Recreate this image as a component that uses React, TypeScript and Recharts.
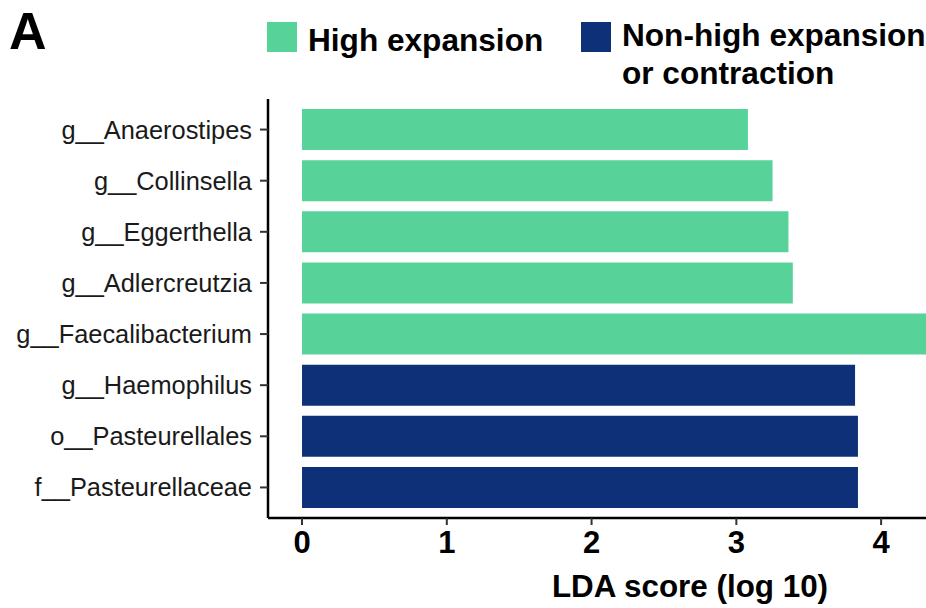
import React from 'react';
import { BarChart, Bar, XAxis, YAxis, Cell, Legend } from 'recharts';

const taxa = [
  'g__Anaerostipes',
  'g__Collinsella',
  'g__Eggerthella',
  'g__Adlercreutzia',
  'g__Faecalibacterium',
  'g__Haemophilus',
  'o__Pasteurellales',
  'f__Pasteurellaceae',
];
const ldaScores = [3.08, 3.25, 3.36, 3.39, 4.7, 3.82, 3.84, 3.84];
const groups = ['high', 'high', 'high', 'high', 'high', 'non', 'non', 'non'];
const xTicks = [0, 1, 2, 3, 4];

const groupColors: Record<string, string> = {
  high: '#57D399',
  non: '#0E3079',
};
const legendItems = [
  { key: 'high', label: 'High expansion' },
  { key: 'non', label: 'Non-high expansion\nor contraction' },
];

const data = taxa.map((name, i) => ({ name, lda: ldaScores[i], group: groups[i] }));

const FONT = '"Liberation Sans", Arial, Helvetica, sans-serif';

const renderLegend = () => (
  <div style={{ position: 'relative', height: 0, fontFamily: FONT }}>
    {legendItems.map((item, i) => {
      const left = i === 0 ? 267 : 581;
      return (
        <React.Fragment key={item.key}>
          <div
            style={{
              position: 'absolute',
              left,
              top: 22,
              width: 30,
              height: 30,
              background: groupColors[item.key],
            }}
          />
          <div
            style={{
              position: 'absolute',
              left: left + 41,
              top: i === 0 ? 21 : 16,
              fontSize: 31.6,
              fontWeight: 'bold',
              lineHeight: '38px',
              color: '#000',
              whiteSpace: 'pre',
            }}
          >
            {item.label}
          </div>
        </React.Fragment>
      );
    })}
  </div>
);

const AxisTitle = (props: any) => {
  const { viewBox } = props;
  return (
    <text
      x={viewBox.x + viewBox.width / 2 + 93}
      y={viewBox.y + 79}
      textAnchor="middle"
      fontFamily={FONT}
      fontSize={31.4}
      fontWeight="bold"
      fill="#000"
    >
      LDA score (log 10)
    </text>
  );
};

export default function App() {
  return (
    <div style={{ position: 'absolute', left: 0, top: 0, width: 926, height: 608, background: '#fff' }}>
      <div
        style={{
          position: 'absolute',
          left: 9,
          top: 5,
          fontFamily: FONT,
          fontSize: 52,
          fontWeight: 'bold',
          lineHeight: '52px',
          color: '#000',
        }}
      >
        A
      </div>
      <BarChart
        width={926}
        height={608}
        data={data}
        layout="vertical"
        margin={{ top: 99, right: 0, bottom: 0, left: 0 }}
        barCategoryGap="10%"
      >
        <Legend
          verticalAlign="top"
          align="left"
          content={renderLegend}
          wrapperStyle={{ top: 0, left: 0, width: 926, height: 0 }}
        />
        <XAxis
          type="number"
          domain={[-0.235, 4.31]}
          allowDataOverflow
          ticks={xTicks}
          height={90}
          axisLine={{ stroke: '#000', strokeWidth: 2.5 }}
          tickLine={{ stroke: '#333', strokeWidth: 2 }}
          tickSize={7}
          tickMargin={6}
          tick={{ fontFamily: FONT, fontSize: 31, fontWeight: 'bold', fill: '#000' }}
          label={<AxisTitle />}
        />
        <YAxis
          type="category"
          dataKey="name"
          width={268}
          padding={{ top: 5, bottom: 5 }}
          axisLine={{ stroke: '#000', strokeWidth: 2.5 }}
          tickLine={{ stroke: '#333', strokeWidth: 2 }}
          tickSize={8}
          tickMargin={8}
          tick={{ fontFamily: FONT, fontSize: 25.4, fill: '#1a1a1a' }}
          interval={0}
        />
        <Bar dataKey="lda" isAnimationActive={false}>
          {data.map((d) => (
            <Cell key={d.name} fill={groupColors[d.group]} />
          ))}
        </Bar>
      </BarChart>
    </div>
  );
}
